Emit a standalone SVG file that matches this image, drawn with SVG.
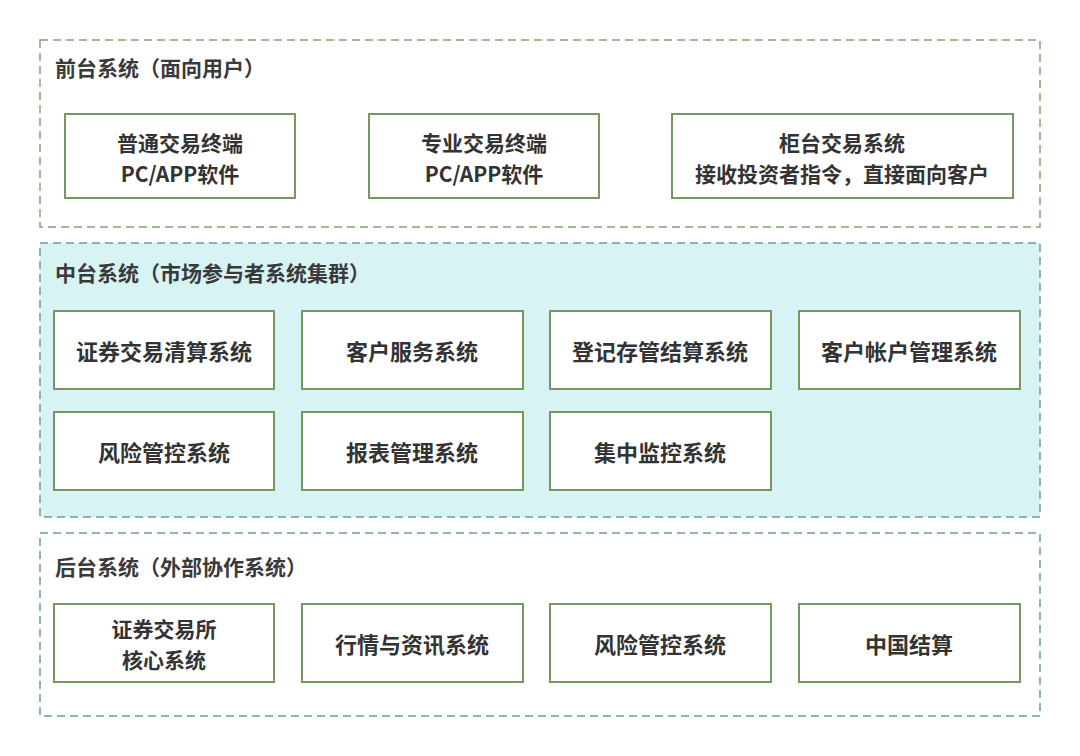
<svg xmlns="http://www.w3.org/2000/svg" width="1080" height="756" viewBox="0 0 1080 756">
<style>
.bg{fill:#ffffff}
.grp{stroke-width:1.5;stroke-dasharray:8 5;fill:none}
.g1{stroke:#7ea66e}
.g2{stroke:#6a9e9c;fill:#d8f3f4}
.g3{stroke:#6a9e9c}
.node{fill:#ffffff;stroke:#74985f;stroke-width:2}
.title{font-family:"Noto Sans CJK SC","Noto Sans",sans-serif;font-size:21px;font-weight:700;fill:#3a3a3a}
.lbl{font-family:"Noto Sans CJK SC","Noto Sans",sans-serif;font-size:22px;font-weight:700;fill:#333333;text-anchor:middle;dominant-baseline:central}
.two{font-size:21px}
</style>
<rect class="bg" x="0" y="0" width="1080" height="756"/>
<g id="front">
<rect class="grp g1" x="40" y="40" width="1000" height="187"/>
<text class="title" x="55" y="76">前台系统（面向用户）</text>
</g>
<g id="middle">
<rect class="grp g2" x="40" y="243" width="1000" height="274"/>
<text class="title" x="55" y="281">中台系统（市场参与者系统集群）</text>
</g>
<g id="back">
<rect class="grp g3" x="40" y="533" width="1000" height="183"/>
<text class="title" x="55" y="575">后台系统（外部协作系统）</text>
</g>
<g id="connectors"></g>
<g id="n1"><rect class="node" x="65" y="114" width="230" height="84"/><text class="lbl two"><tspan x="180" y="142">普通交易终端</tspan><tspan x="180" dy="30.6">PC/APP软件</tspan></text></g>
<g id="n2"><rect class="node" x="369" y="114" width="230" height="84"/><text class="lbl two"><tspan x="484" y="142">专业交易终端</tspan><tspan x="484" dy="30.6">PC/APP软件</tspan></text></g>
<g id="n3"><rect class="node" x="672" y="114" width="341" height="84"/><text class="lbl two"><tspan x="842" y="142">柜台交易系统</tspan><tspan x="842" dy="30.6">接收投资者指令，直接面向客户</tspan></text></g>
<g id="m1"><rect class="node" x="54" y="311" width="220" height="78"/><text class="lbl" x="164" y="350">证券交易清算系统</text></g>
<g id="m2"><rect class="node" x="302" y="311" width="221" height="78"/><text class="lbl" x="412" y="350">客户服务系统</text></g>
<g id="m3"><rect class="node" x="550" y="311" width="221" height="78"/><text class="lbl" x="660" y="350">登记存管结算系统</text></g>
<g id="m4"><rect class="node" x="799" y="311" width="221" height="78"/><text class="lbl" x="909" y="350">客户帐户管理系统</text></g>
<g id="m5"><rect class="node" x="54" y="412" width="220" height="78"/><text class="lbl" x="164" y="451">风险管控系统</text></g>
<g id="m6"><rect class="node" x="302" y="412" width="221" height="78"/><text class="lbl" x="412" y="451">报表管理系统</text></g>
<g id="m7"><rect class="node" x="550" y="412" width="221" height="78"/><text class="lbl" x="660" y="451">集中监控系统</text></g>
<g id="b1"><rect class="node" x="54" y="604" width="220" height="78"/><text class="lbl two"><tspan x="164" y="628">证券交易所</tspan><tspan x="164" dy="30.6">核心系统</tspan></text></g>
<g id="b2"><rect class="node" x="302" y="604" width="221" height="78"/><text class="lbl" x="412" y="643">行情与资讯系统</text></g>
<g id="b3"><rect class="node" x="550" y="604" width="221" height="78"/><text class="lbl" x="660" y="643">风险管控系统</text></g>
<g id="b4"><rect class="node" x="799" y="604" width="221" height="78"/><text class="lbl" x="909" y="643">中国结算</text></g>
</svg>
